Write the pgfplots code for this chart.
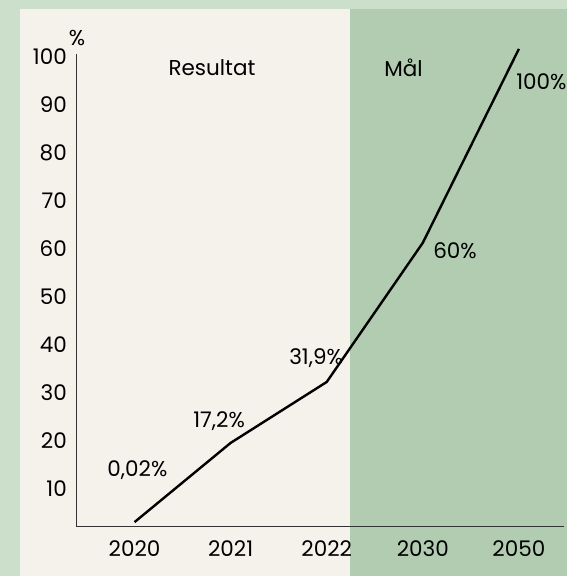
\documentclass[border=0pt]{standalone}
\usepackage{fontspec}
\setmainfont{Poppins}
\usepackage{pgfplots}
\pgfplotsset{compat=1.18}
\definecolor{outerbg}{HTML}{CCDFCA}
\definecolor{beige}{HTML}{F5F1EB}
\definecolor{goal}{HTML}{B1CCB0}
\newcommand{\lblfont}{\fontsize{21.5}{25}\selectfont}
\begin{document}
\begin{tikzpicture}
\clip (-76pt,-50pt) rectangle (491pt,526pt);
\fill[outerbg] (-76pt,-50pt) rectangle (491pt,526pt);
\fill[beige] (-56pt,-50pt) rectangle (274pt,517pt);
\fill[goal] (274pt,-50pt) rectangle (491pt,517pt);
\begin{axis}[
  at={(0pt,0pt)}, anchor=south west,
  scale only axis, width=488pt, height=472pt,
  xmin=-0.609, xmax=4.469, ymin=2.29, ymax=100.63,
  axis x line*=bottom, axis y line*=left,
  axis line style={black!80, line width=0.9pt},
  major tick length=0pt,
  ytick={10,20,...,100},
  xtick={0,1,2,3,4},
  xticklabels={2020,2021,2022,2030,2050},
  /pgf/number format/assume math mode=true,
  yticklabel style={anchor=east, inner sep=0pt, xshift=-9pt, font=\lblfont},
  xticklabel style={anchor=north, inner sep=0pt, yshift=-14pt, font=\lblfont},
  clip=false,
]
\addplot[black, line width=2.4pt] coordinates {(0,3.1) (1,19.6) (2,32.3) (3,61.3) (4,101.7)};
\node[font=\lblfont] at (axis cs:0.03,13.96) {0,02\%};
\node[font=\lblfont] at (axis cs:0.88,24.2) {17,2\%};
\node[font=\lblfont] at (axis cs:1.89,37.3) {31,9\%};
\node[font=\lblfont] at (axis cs:3.335,59.6) {60\%};
\node[font=\lblfont, anchor=west, inner sep=0pt] at (axis cs:3.97,94.8) {100\%};
\node[font=\lblfont] at (axis cs:0.806,97.7) {Resultat};
\node[font=\lblfont] at (axis cs:2.80,97.7) {Mål};
\node[font=\lblfont] at (axis cs:-0.598,103.96) {\%};
\end{axis}
\end{tikzpicture}
\end{document}
